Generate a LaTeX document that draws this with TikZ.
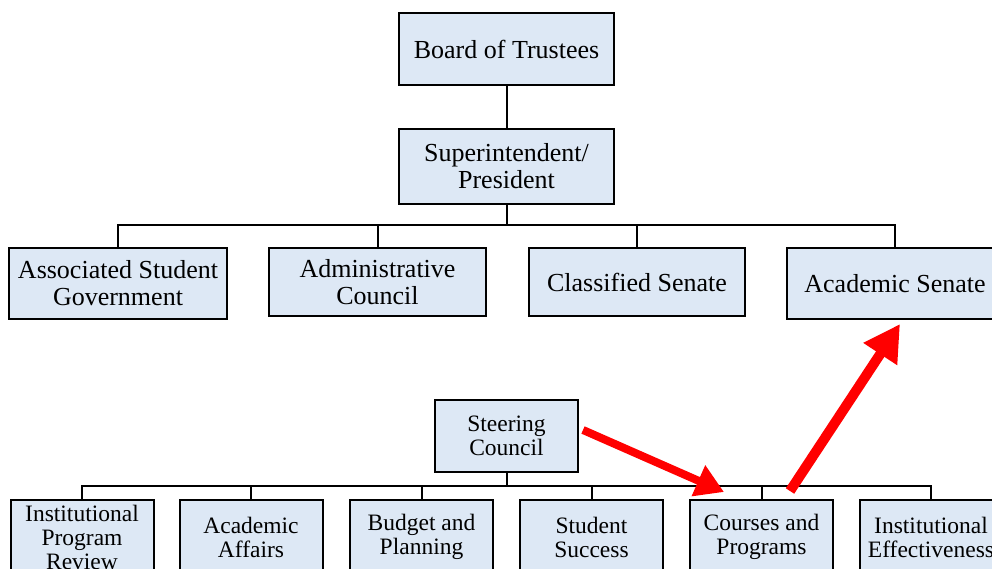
\documentclass[tikz,border=0pt]{standalone}
\usepackage{fontspec}
\setmainfont{Liberation Serif}
\usetikzlibrary{arrows.meta,calc}
\definecolor{boxblue}{RGB}{221,232,245}
\begin{document}
\begin{tikzpicture}[x=1pt,y=-1pt,
  box/.style={draw=black, line width=2pt, fill=boxblue, inner sep=0pt, align=center,
    font=\fontsize{26}{27}\selectfont},
  sbox/.style={box, minimum width=143pt, minimum height=74pt,
    font=\fontsize{23.5}{24}\selectfont},
  link/.style={draw=black, line width=2pt},
  redarrow/.style={draw=red, line width=9pt, -{Triangle[length=28pt,width=32pt]}}]
\useasboundingbox (0,0) rectangle (992,569);
% top part
\node[box, minimum width=215pt, minimum height=72pt] (board) at (506.5,49) {Board of Trustees};
\node[box, minimum width=215pt, minimum height=75pt] (super) at (506.5,166.5) {Superintendent/\\President};
\node[box, minimum width=218pt, minimum height=71pt] (asg) at (118,283.5) {Associated Student\\Government};
\node[box, minimum width=217pt, minimum height=68pt] (admin) at (377.5,282) {Administrative\\Council};
\node[box, minimum width=216pt, minimum height=68pt] (class) at (637,282) {Classified Senate};
\node[box, minimum width=216pt, minimum height=71pt] (acad) at (895,283.5) {Academic Senate};
\coordinate (bus1) at (506.5,225);
\draw[link] (board) -- (super);
\draw[link] (super.south) -- (bus1);
\draw[link] (asg.north) |- (bus1) -| (acad.north);
\draw[link] (admin.north) -- (admin.north |- bus1);
\draw[link] (class.north) -- (class.north |- bus1);
% bottom part
\node[sbox, minimum height=72pt] (steer) at (506.5,436) {Steering\\Council};
\node[sbox] (ipr) at (82,537) {Institutional\\Program\\Review};
\node[sbox] (aa) at (251,537) {Academic\\Affairs};
\node[sbox] (bp) at (421.5,537) {Budget and\\Planning};
\node[sbox] (ss) at (591.5,537) {Student\\Success};
\node[sbox] (cp) at (761.5,537) {Courses and\\Programs};
\node[sbox] (ie) at (931,537) {Institutional\\Effectiveness};
\coordinate (bus2) at (506.5,486);
\draw[link] (steer.south) -- (bus2);
\draw[link] (ipr.north) |- (bus2) -| (ie.north);
\draw[link] (aa.north) -- (aa.north |- bus2);
\draw[link] (bp.north) -- (bp.north |- bus2);
\draw[link] (ss.north) -- (ss.north |- bus2);
\draw[link] (cp.north) -- (cp.north |- bus2);
% red arrows
\draw[redarrow, line width=8pt] ($(steer.east)+(4,-6)$) -- ($(cp.north west)+(35,-7)$);
\draw[redarrow, line width=10pt, -{Triangle[length=36pt,width=38pt]}] ($(cp.north west)+(101,-8)$) -- ($(acad.south)+(5,4)$);
\end{tikzpicture}
\end{document}
